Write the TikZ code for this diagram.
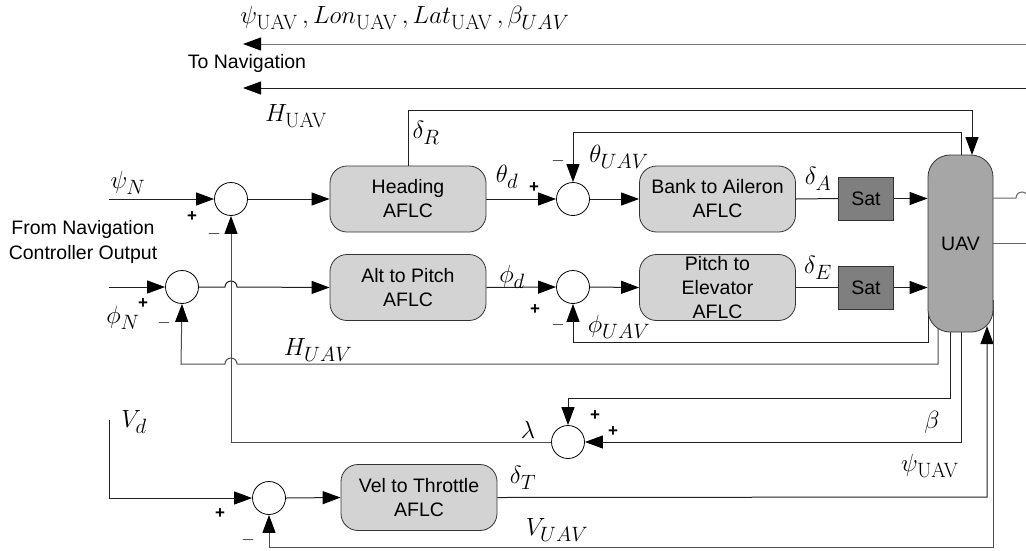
\documentclass[tikz,border=0pt]{standalone}
\usepackage[no-math]{fontspec}
\setmainfont{Liberation Sans}
\usetikzlibrary{arrows.meta,calc}
\pgfdeclarelayer{bg}
\pgfsetlayers{bg,main}
\definecolor{aflc}{HTML}{D3D3D3}
\definecolor{uavc}{HTML}{A6A6A6}
\definecolor{satc}{HTML}{7F7F7F}
\definecolor{ln}{HTML}{202020}
\begin{document}
\begin{tikzpicture}[x=1pt,y=-1pt,
 wire/.style={draw=ln, line width=1pt},
 arr/.style={wire, -{Triangle[length=18pt,width=13pt,color=black]}},
 sumnode/.style={circle, draw=black, line width=0.8pt, fill=white, minimum size=33pt, inner sep=0pt},
 aflcbox/.style={draw=black!80, line width=0.8pt, fill=aflc, rounded corners=17pt, minimum width=156pt, minimum height=66pt, align=center, font=\fontsize{19.5}{24}\selectfont, inner sep=0pt},
 satbox/.style={draw=black!80, line width=0.8pt, fill=satc, minimum width=55pt, minimum height=43pt, font=\fontsize{19.5}{24}\selectfont, inner sep=0pt},
 uavbox/.style={draw=black!80, line width=0.8pt, fill=uavc, rounded corners=22pt, minimum width=65pt, minimum height=177pt, font=\fontsize{19.5}{24}\selectfont, inner sep=0pt},
 lab/.style={font=\fontsize{28}{32}\selectfont, inner sep=0pt},
 sgn/.style={font=\fontsize{17}{19}\selectfont\bfseries, inner sep=0pt},
 txt/.style={font=\fontsize{19.5}{25}\selectfont, align=center, inner sep=0pt}
]
\useasboundingbox (0,0) rectangle (1026,550);

% blocks
\node[sumnode] (sumH) at (231,199) {};
\node[sumnode] (sumP) at (182,287) {};
\node[sumnode] (sumT) at (573,199) {};
\node[sumnode] (sumE) at (573,287) {};
\node[sumnode] (sumL) at (568,442) {};
\node[sumnode] (sumV) at (269,498) {};
\node[aflcbox] (heading) at (408,199) {Heading\\AFLC};
\node[aflcbox] (altp) at (408,287.5) {Alt to Pitch\\AFLC};
\node[aflcbox] (bank) at (717.5,199) {Bank to Aileron\\AFLC};
\node[aflcbox] (pitch) at (717.5,287.5) {Pitch to\\Elevator\\AFLC};
\node[aflcbox] (vel) at (419,497.5) {Vel to Throttle\\AFLC};
\node[satbox] (sat1) at (866,198.5) {Sat};
\node[satbox] (sat2) at (866,287.5) {Sat};
\node[uavbox] (uav) at (960.5,243.5) {UAV};

% free ends
\coordinate (topR1) at (1026,44);
\coordinate (topL1) at (243,44);
\coordinate (topR2) at (1026,88);
\coordinate (topL2) at (243,88);
\coordinate (inPsi) at (109,199);
\coordinate (inPhi) at (109,287);
\coordinate (inVd) at (109,420);
\coordinate (outA) at (1026,198);
\coordinate (outB) at (1026,243);

\begin{pgfonlayer}{bg}
% top outputs to navigation
\draw[arr, draw=black!55] (topR1) -- (topL1);
\draw[arr] (topR2) -- (topL2);
% right outputs
\draw[wire, draw=black!60] (uav.east |- 0,198) -- (1016,198) arc[start angle=180,end angle=0,radius=6pt] -- (outA);
\draw[wire, draw=black!60] (uav.east |- 0,243) -- (outB);
% inputs
\draw[arr] (inPsi) -- (sumH.west);
\draw[arr] (inPhi) -- (sumP.west);
\draw[arr] (sumH.east) -- (heading.west);
\draw[arr] (sumP.east) -- (225,287) arc[start angle=180,end angle=0,radius=6pt] -- (altp.west);
\draw[arr] (heading.east) -- (sumT.west);
\draw[arr] (altp.east) -- (sumE.west);
\draw[arr] (sumT.east) -- (bank.west);
\draw[arr] (sumE.east) -- (pitch.west);
\draw[wire] (bank.east) -- (sat1.west);
\draw[wire] (pitch.east |- sat2.west) -- (sat2.west);
\draw[arr] (sat1.east) -- (uav.west |- sat1.east);
\draw[arr] (sat2.east) -- (uav.west |- sat2.east);
% delta R
\draw[arr] (heading.north) -- (408,110) -- (972,110) -- (972,155);
% theta UAV
\draw[arr] (961,170) -- (961,132) -- (573,132) -- (sumT.north);
% phi UAV
\draw[arr] (928,300) -- (928,342) -- (573,342) -- (sumE.south);
% H UAV
\draw[arr, draw=black!70] (938,300) -- (938,364) -- (237,364) arc[start angle=0,end angle=180,radius=6pt] -- (181,364) -- (sumP.south);
% beta
\draw[arr] (950,300) -- (950,398) -- (568,398) -- (sumL.north);
% psi UAV
\draw[arr] (961,300) -- (961,442) -- (sumL.east);
% lambda
\draw[arr, draw=black!70] (sumL.west) -- (231,442) -- (sumH.south);
% Vd
\draw[arr] (inVd) -- (109,498) -- (sumV.west);
\draw[arr] (sumV.east) -- (vel.west);
% delta T
\draw[arr] (vel.east) -- (987,497) -- (987,326);
% V UAV
\draw[arr, draw=black!70] (993.5,300) -- (993.5,547) -- (269,547) -- (sumV.south);
\end{pgfonlayer}

% labels
\node[lab] (lTop) at (405,18) {$\psi_{\mathrm{UAV}}\,, Lon_{\mathrm{UAV}}\,, Lat_{\mathrm{UAV}}\,, \beta_{UAV}$};
\node[txt] (lToNav) at (247,63) {To Navigation};
\node[lab] (lHtop) at (296,116) {$H_{\mathrm{UAV}}$};
\node[lab] (ldR) at (426,133) {$\delta_R$};
\node[lab] (lthd) at (507,177) {$\theta_d$};
\node[sgn] (s1) at (534,188) {+};
\node[sgn] (s2) at (558,161) {$-$};
\node[lab] (lthU) at (619,157) {$\theta_{UAV}$};
\node[lab] (lphd) at (512,277) {$\phi_d$};
\node[sgn] (s3) at (535,310) {+};
\node[sgn] (s4) at (558,325) {$-$};
\node[lab] (lphU) at (619,327) {$\phi_{UAV}$};
\node[lab] (ldA) at (818,179) {$\delta_A$};
\node[lab] (ldE) at (818,268) {$\delta_E$};
\node[lab] (lpsiN) at (128,183) {$\psi_{N}$};
\node[sgn] (s5) at (192,217) {+};
\node[sgn] (s6) at (214,234) {$-$};
\node[txt] (lFrom) at (83,242) {From Navigation\\Controller Output};
\node[lab] (lphiN) at (123,318) {$\phi_{N}$};
\node[sgn] (s7) at (143,304) {+};
\node[sgn] (s8) at (164,323) {$-$};
\node[lab] (lHmid) at (318,350) {$H_{UAV}$};
\node[lab] (llam) at (528,430) {$\lambda$};
\node[sgn] (s9) at (595,416) {+};
\node[sgn] (s10) at (613,432) {+};
\node[lab] (lbeta) at (932,422) {$\beta$};
\node[lab] (lpsiU) at (930,466) {$\psi_{\mathrm{UAV}}$};
\node[lab] (lVd) at (134,422) {$V_d$};
\node[sgn] (s11) at (220,514) {+};
\node[sgn] (s12) at (248,540) {$-$};
\node[lab] (ldT) at (523,478) {$\delta_T$};
\node[lab] (lVU) at (557,530) {$V_{UAV}$};
\end{tikzpicture}
\end{document}
